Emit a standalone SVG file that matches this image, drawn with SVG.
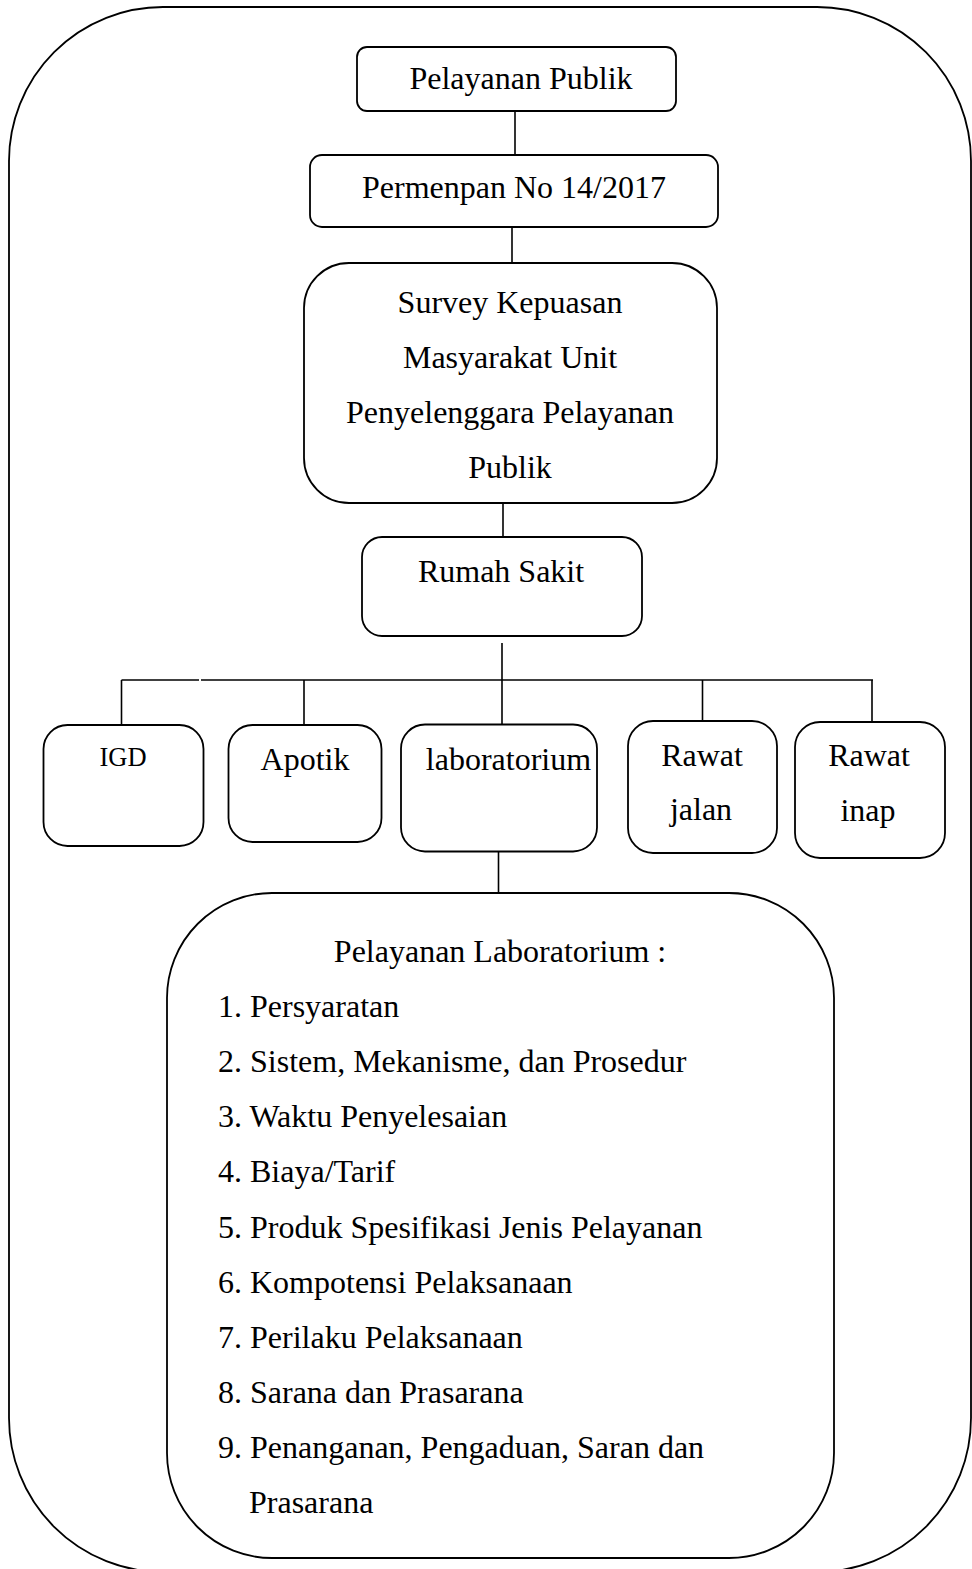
<svg xmlns="http://www.w3.org/2000/svg" width="972" height="1569" viewBox="0 0 972 1569">
<style>
.box{fill:#fff;stroke:#000;stroke-width:1.8}
.frame{fill:none;stroke:#000;stroke-width:1.8}
.c{stroke:#000;stroke-width:1.6;fill:none}
text{font-family:"Liberation Serif","Times New Roman",serif;font-size:32px;fill:#000}
.m{text-anchor:middle}
</style>
<rect width="972" height="1569" fill="#fff"/>
<rect id="frame" class="frame" x="9" y="7" width="962" height="1565" rx="154" ry="154"/>
<g id="connectors">
<line class="c" x1="515" y1="111" x2="515" y2="155"/>
<line class="c" x1="512" y1="227" x2="512" y2="263"/>
<line class="c" x1="503" y1="503" x2="503" y2="537"/>
<line class="c" x1="502" y1="643" x2="502" y2="725"/>
<line class="c" x1="121.5" y1="680" x2="199" y2="680" stroke-width="2"/>
<line class="c" x1="201" y1="680" x2="873" y2="680" stroke-width="2"/>
<line class="c" x1="121.5" y1="680" x2="121.5" y2="725"/>
<line class="c" x1="304" y1="680" x2="304" y2="728"/>
<line class="c" x1="702.5" y1="680" x2="702.5" y2="721"/>
<line class="c" x1="872" y1="680" x2="872" y2="722"/>
<line class="c" x1="498.5" y1="852" x2="498.5" y2="893"/>
</g>
<g id="n-pelayanan-publik">
<rect class="box" x="357" y="47" width="319" height="64" rx="10"/>
<text class="m" x="521" y="89">Pelayanan Publik</text>
</g>
<g id="n-permenpan">
<rect class="box" x="310" y="155" width="408" height="72" rx="12"/>
<text class="m" x="514" y="198">Permenpan No 14/2017</text>
</g>
<g id="n-survey">
<rect class="box" x="304" y="263" width="413" height="240" rx="45"/>
<text class="m" x="510" y="313">Survey Kepuasan</text>
<text class="m" x="510" y="368">Masyarakat Unit</text>
<text class="m" x="510" y="423">Penyelenggara Pelayanan</text>
<text class="m" x="510" y="478">Publik</text>
</g>
<g id="n-rumah-sakit">
<rect class="box" x="362" y="537" width="280" height="99" rx="20"/>
<text class="m" x="501" y="582">Rumah Sakit</text>
</g>
<g id="n-igd">
<rect class="box" x="43.5" y="725" width="160" height="121" rx="24"/>
<text class="m" x="123" y="766" font-size="26.5" style="font-size:26.5px">IGD</text>
</g>
<g id="n-apotik">
<rect class="box" x="228.5" y="725" width="153" height="117" rx="24"/>
<text class="m" x="305" y="770">Apotik</text>
</g>
<g id="n-laboratorium">
<rect class="box" x="401" y="724.5" width="196" height="127" rx="24"/>
<text class="m" x="508.5" y="770">laboratorium</text>
</g>
<g id="n-rawat-jalan">
<rect class="box" x="628" y="721" width="149" height="132" rx="25"/>
<text class="m" x="702" y="766">Rawat</text>
<text class="m" x="701" y="820">jalan</text>
</g>
<g id="n-rawat-inap">
<rect class="box" x="795" y="722" width="150" height="136" rx="25"/>
<text class="m" x="869" y="766">Rawat</text>
<text class="m" x="868" y="821">inap</text>
</g>
<g id="n-pelayanan-lab">
<rect class="box" x="167" y="893" width="667" height="665" rx="105"/>
<text class="m" x="500" y="962">Pelayanan Laboratorium :</text>
<text x="218" y="1017">1. Persyaratan</text>
<text x="218" y="1072">2. Sistem, Mekanisme, dan Prosedur</text>
<text x="218" y="1127">3. Waktu Penyelesaian</text>
<text x="218" y="1182">4. Biaya/Tarif</text>
<text x="218" y="1238">5. Produk Spesifikasi Jenis Pelayanan</text>
<text x="218" y="1293">6. Kompotensi Pelaksanaan</text>
<text x="218" y="1348">7. Perilaku Pelaksanaan</text>
<text x="218" y="1403">8. Sarana dan Prasarana</text>
<text x="218" y="1458">9. Penanganan, Pengaduan, Saran dan</text>
<text x="249" y="1513">Prasarana</text>
</g>
</svg>
